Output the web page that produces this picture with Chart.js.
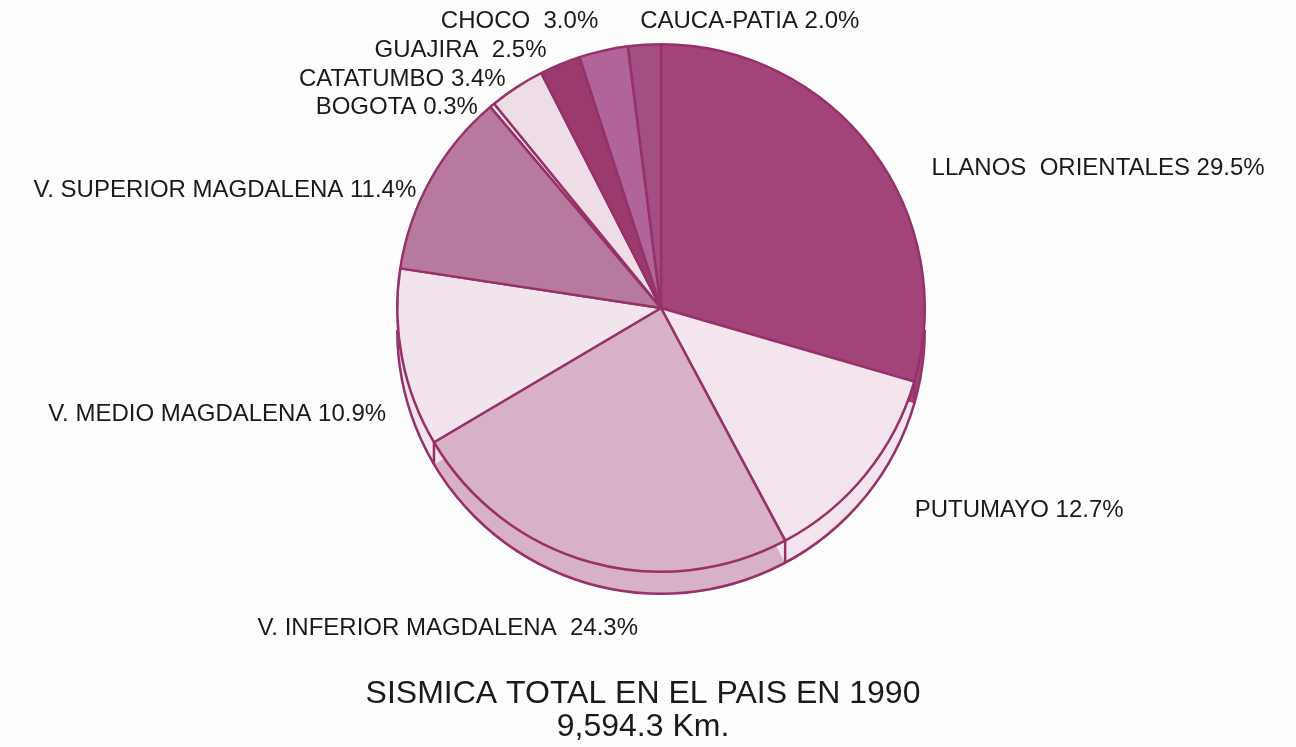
<!DOCTYPE html>
<html>
<head>
<meta charset="utf-8">
<script src="https://cdn.jsdelivr.net/npm/chart.js@4.4.1/dist/chart.umd.min.js"></script>
<style>
  html, body { margin: 0; padding: 0; background: #fdfdfd; }
  #wrap { width: 1296px; height: 747px; }
</style>
</head>
<body>
<div id="wrap"><canvas id="myChartSismica" width="1296" height="747"></canvas></div>
<script>
const cuencas = ['LLANOS  ORIENTALES', 'PUTUMAYO', 'V. INFERIOR MAGDALENA ', 'V. MEDIO MAGDALENA',
  'V. SUPERIOR MAGDALENA', 'BOGOTA', 'CATATUMBO', 'GUAJIRA ', 'CHOCO ', 'CAUCA-PATIA']
const porcentajes = [29.5, 12.7, 24.3, 10.9, 11.4, 0.3, 3.4, 2.5, 3.0, 2.0]
const titulo = ['SISMICA TOTAL EN EL PAIS EN 1990', '9,594.3 Km.']

const colores = ['#a2447a', '#f3e4ed', '#d9b1c7', '#f1e4ec', '#b77a9e',
  '#f4e8ef', '#eedde7', '#9a3a6e', '#b0649a', '#a34f84']
const borde = '#963268'
const grosor = 22

// posicion de cada etiqueta, relativa al centro, en radios
const posEtiquetas = [
  [1.026, -0.528, 'left'], [0.962, 0.766, 'left'], [-0.087, 1.215, 'right'],
  [-1.042, 0.404, 'right'], [-0.928, -0.445, 'right'], [-0.694, -0.762, 'right'],
  [-0.589, -0.868, 'right'], [-0.434, -0.977, 'right'], [-0.238, -1.087, 'right'],
  [-0.079, -1.087, 'left']
]

const pie3d = {
  id: 'pie3d',
  beforeDatasetsDraw(chart) {
    const ctx = chart.ctx
    const arcs = chart.getDatasetMeta(0).data
    ctx.save()
    arcs.forEach((a, i) => {
      const p = a.getProps(['x', 'y', 'startAngle', 'endAngle', 'outerRadius'], true)
      ctx.beginPath()
      ctx.moveTo(p.x, p.y + grosor)
      ctx.arc(p.x, p.y + grosor, p.outerRadius, p.startAngle, p.endAngle)
      ctx.closePath()
      ctx.fillStyle = colores[i]
      ctx.fill()
    })
    const p0 = arcs[0].getProps(['x', 'y', 'outerRadius'], true)
    ctx.strokeStyle = borde
    ctx.lineWidth = 2.5
    ctx.beginPath()
    ctx.arc(p0.x, p0.y + grosor, p0.outerRadius, 0, Math.PI)
    ctx.stroke()
    arcs.forEach(a => {
      const p = a.getProps(['x', 'y', 'startAngle', 'outerRadius'], true)
      let ang = p.startAngle % (2 * Math.PI)
      if (ang < 0) ang += 2 * Math.PI
      if (ang > 0 && ang < Math.PI) {
        const x = p.x + p.outerRadius * Math.cos(ang)
        const y = p.y + p.outerRadius * Math.sin(ang)
        ctx.beginPath()
        ctx.moveTo(x, y)
        ctx.lineTo(x, y + grosor)
        ctx.stroke()
      }
    })
    ctx.restore()
  },
  afterDatasetsDraw(chart) {
    const ctx = chart.ctx
    const arcs = chart.getDatasetMeta(0).data
    ctx.save()
    ctx.fillStyle = '#1a1a1a'
    ctx.font = '24px "Liberation Sans", Arial, sans-serif'
    ctx.textBaseline = 'middle'
    arcs.forEach((a, i) => {
      const p = a.getProps(['x', 'y', 'outerRadius'], true)
      const [dx, dy, al] = posEtiquetas[i]
      ctx.textAlign = al
      const txt = cuencas[i] + ' ' + porcentajes[i].toFixed(1) + '%'
      ctx.fillText(txt, p.x + dx * p.outerRadius, p.y + dy * p.outerRadius)
    })
    ctx.font = '32px "Liberation Sans", Arial, sans-serif'
    ctx.textAlign = 'center'
    ctx.fillText(titulo[0], 643, 694)
    ctx.fillText(titulo[1], 643, 727)
    ctx.restore()
  }
}

var ctx = document.getElementById('myChartSismica')
var myChart = new Chart(ctx, {
  type: 'pie',
  data: {
    labels: cuencas,
    datasets: [{
      data: porcentajes,
      backgroundColor: colores,
      borderColor: borde,
      borderWidth: 2.5
    }]
  },
  options: {
    responsive: false,
    animation: false,
    layout: { padding: { top: 43, bottom: 174, left: 26, right: 0 } },
    plugins: {
      legend: { display: false },
      tooltip: { enabled: false },
      title: { display: false }
    }
  },
  plugins: [pie3d]
})
</script>
</body>
</html>
